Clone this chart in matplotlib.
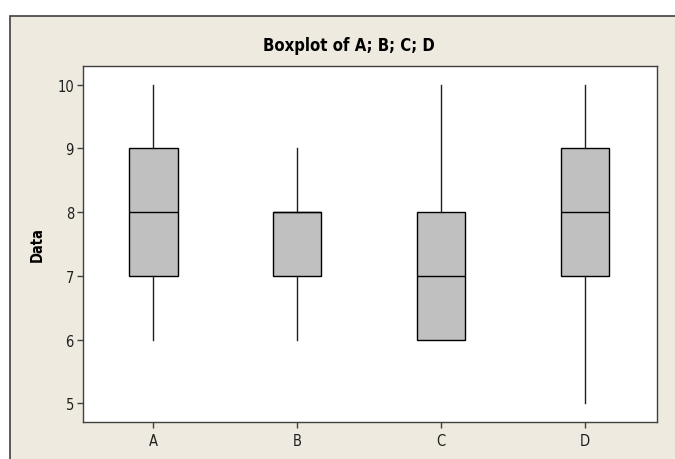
import matplotlib
matplotlib.use("Agg")
import matplotlib.pyplot as plt
from matplotlib.patches import Rectangle

categories = ["A", "B", "C", "D"]
whisker_low = [6, 6, 6, 5]
q1 = [7, 7, 6, 7]
median = [8, 8, 7, 8]
q3 = [9, 8, 8, 9]
whisker_high = [10, 9, 10, 10]
y_ticks = [5, 6, 7, 8, 9, 10]

plt.rcParams['font.family'] = ['DejaVu Sans']
plt.rcParams['font.stretch'] = 'condensed'

W, H = 675, 460
fig = plt.figure(figsize=(W / 100, H / 100), dpi=100)
fig.patch.set_facecolor("white")

bg = "#EEEAE0"
fig.patches.append(Rectangle((10 / W, -0.01), 1.2, (H - 17) / H + 0.01,
                             transform=fig.transFigure, facecolor=bg,
                             edgecolor="#404040", linewidth=1.2, zorder=-10))

left, right, top, bottom = 83, 657, 67, 423
ax = fig.add_axes([left / W, (H - bottom) / H, (right - left) / W, (bottom - top) / H])
ax.set_zorder(5)
ax.set_facecolor("white")

stats = []
for i, c in enumerate(categories):
    stats.append(dict(label=c, whislo=whisker_low[i], q1=q1[i], med=median[i],
                      q3=q3[i], whishi=whisker_high[i], fliers=[]))

ax.bxp(stats, positions=range(1, len(categories) + 1), widths=0.335,
       patch_artist=True, showcaps=False,
       boxprops=dict(facecolor="#C0C0C0", edgecolor="black", linewidth=1.0),
       medianprops=dict(color="black", linewidth=1.0),
       whiskerprops=dict(color="#202020", linewidth=1.0))

ax.set_xlim(0.51, 4.5)
ax.set_ylim(4.705, 10.295)
ax.set_yticks(y_ticks)
ax.set_yticklabels([str(v) for v in y_ticks])
for s in ax.spines.values():
    s.set_color("#404040")
    s.set_linewidth(1.0)
ax.tick_params(axis="both", direction="out", length=4, width=1, color="#404040",
               labelsize=10.5, labelcolor="#202020", top=False, right=False)
ax.tick_params(axis="x", pad=4)
ax.tick_params(axis="y", pad=2.5)
ax.set_ylabel("Data", fontsize=10.5, fontweight="bold", labelpad=9)

fig.text(349 / W, 1 - 46 / H, "Boxplot of A; B; C; D", ha="center",
         va="center", fontsize=12, fontweight="bold", color="black")

fig.savefig("out.png", dpi=100, facecolor=fig.get_facecolor())
